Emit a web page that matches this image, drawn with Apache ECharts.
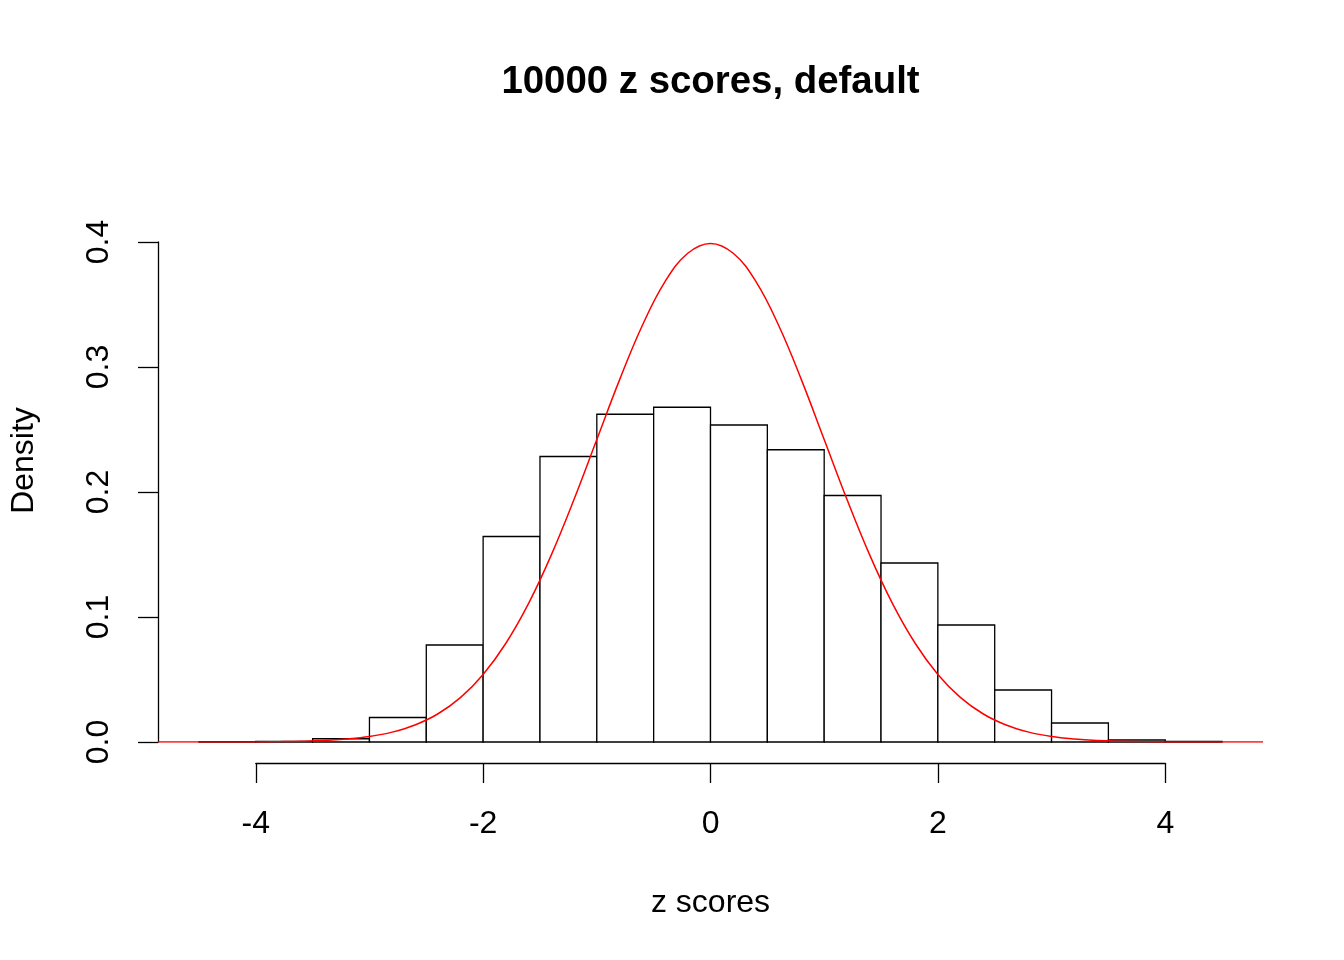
<!DOCTYPE html>
<html>
<head>
<meta charset="utf-8">
<title>10000 z scores, default</title>
<script src="https://cdn.jsdelivr.net/npm/echarts@6/dist/echarts.min.js"></script>
<style>
  html, body { margin: 0; padding: 0; background: #ffffff; }
  #chart { width: 1344px; height: 960px; }
</style>
</head>
<body>
<div id="chart"></div>
<script>
// Histogram bin edges (width 0.5) and the density of each bin
const binEdges = [-4.5, -4, -3.5, -3, -2.5, -2, -1.5, -1, -0.5, 0, 0.5, 1, 1.5, 2, 2.5, 3, 3.5, 4, 4.5];
const binDensity = [0.0002, 0.0004, 0.0026, 0.0196, 0.0776, 0.1644, 0.2284, 0.2622, 0.2678,
                    0.2536, 0.2338, 0.1972, 0.1432, 0.0936, 0.0416, 0.0152, 0.0016, 0.0004];

// Standard normal reference curve, sampled across the plotted range
const curveX = [-4.86, -4.8, -4.6, -4.4, -4.2, -4.0, -3.8, -3.6, -3.4, -3.2, -3.0, -2.8, -2.6, -2.4, -2.2,
                -2.0, -1.8, -1.6, -1.4, -1.2, -1.0, -0.8, -0.6, -0.4, -0.2, 0,
                0.2, 0.4, 0.6, 0.8, 1.0, 1.2, 1.4, 1.6, 1.8, 2.0, 2.2, 2.4, 2.6, 2.8, 3.0,
                3.2, 3.4, 3.6, 3.8, 4.0, 4.2, 4.4, 4.6, 4.8, 4.86];
const curveDensity = [0.0000, 0.0000, 0.0000, 0.0000, 0.0001, 0.0001, 0.0003, 0.0006, 0.0012, 0.0024, 0.0044,
                      0.0079, 0.0136, 0.0224, 0.0355, 0.0540, 0.0790, 0.1109, 0.1497, 0.1942, 0.2420,
                      0.2897, 0.3332, 0.3683, 0.3910, 0.3989,
                      0.3910, 0.3683, 0.3332, 0.2897, 0.2420, 0.1942, 0.1497, 0.1109, 0.0790, 0.0540,
                      0.0355, 0.0224, 0.0136, 0.0079, 0.0044, 0.0024, 0.0012, 0.0006, 0.0003, 0.0001,
                      0.0001, 0.0000, 0.0000, 0.0000, 0.0000];

// Axis ticks
const xTicks = [-4, -2, 0, 2, 4];
const yTicks = [0, 0.1, 0.2, 0.3, 0.4];

const titleText = '10000 z scores, default';
const xLabel = 'z scores';
const yLabel = 'Density';

const FONT = '"Liberation Sans", Arial, Helvetica, sans-serif';

const bins = binDensity.map((d, i) => [binEdges[i], binEdges[i + 1], d]);
const curve = curveX.map((x, i) => [x, curveDensity[i]]);

const chart = echarts.init(document.getElementById('chart'), null, { renderer: 'canvas' });

chart.setOption({
  backgroundColor: '#ffffff',
  animation: false,
  title: {
    text: titleText,
    left: 710.5,
    textAlign: 'center',
    top: 63,
    padding: 0,
    textStyle: { fontFamily: FONT, fontSize: 38.4, fontWeight: 'bold', color: '#000' }
  },
  // y-axis title, set in the left margin and read bottom to top
  graphic: [
    {
      type: 'text',
      x: 24,
      y: 460.5,
      rotation: Math.PI / 2,
      style: {
        text: yLabel,
        fontFamily: FONT,
        fontSize: 32,
        fill: '#000',
        align: 'center',
        verticalAlign: 'middle'
      }
    }
  ],
  grid: [
    // plotting region
    { left: 158, right: 81, top: 242, height: 500 },
    // region holding the x axis, spanning the tick range only
    { left: 255.8, width: 909.5, top: 700, height: 63 }
  ],
  xAxis: [
    {
      gridIndex: 0, type: 'value', min: -4.86, max: 4.86, show: false
    },
    {
      gridIndex: 1, type: 'value',
      min: xTicks[0], max: xTicks[xTicks.length - 1], interval: 2,
      axisLine: { show: true, onZero: false, lineStyle: { color: '#000', width: 1.3 } },
      axisTick: { show: true, inside: false, length: 20, lineStyle: { color: '#000', width: 1.3 } },
      axisLabel: { show: true, margin: 45, fontFamily: FONT, fontSize: 32, color: '#000' },
      splitLine: { show: false },
      name: xLabel, nameLocation: 'middle', nameGap: 124,
      nameTextStyle: { fontFamily: FONT, fontSize: 32, color: '#000' }
    }
  ],
  yAxis: [
    {
      gridIndex: 0, type: 'value',
      min: yTicks[0], max: yTicks[yTicks.length - 1], interval: 0.1,
      axisLine: { show: true, onZero: false, lineStyle: { color: '#000', width: 1.3 } },
      axisTick: { show: true, inside: false, length: 20, lineStyle: { color: '#000', width: 1.3 } },
      axisLabel: {
        show: true, rotate: 90, margin: 43,
        fontFamily: FONT, fontSize: 32, color: '#000',
        formatter: v => v.toFixed(1)
      },
      splitLine: { show: false }
    },
    { gridIndex: 1, type: 'value', show: false }
  ],
  series: [
    {
      type: 'custom',
      xAxisIndex: 0, yAxisIndex: 0,
      data: bins,
      encode: { x: [0, 1], y: 2 },
      renderItem: function (params, api) {
        const p0 = api.coord([api.value(0), 0]);
        const p1 = api.coord([api.value(1), api.value(2)]);
        return {
          type: 'rect',
          shape: { x: p0[0], y: p1[1], width: p1[0] - p0[0], height: p0[1] - p1[1] },
          style: { fill: '#ffffff', stroke: '#000000', lineWidth: 1.3 }
        };
      },
      z: 2
    },
    {
      type: 'line',
      xAxisIndex: 0, yAxisIndex: 0,
      data: curve,
      showSymbol: false,
      symbol: 'none',
      smooth: 0.4,
      lineStyle: { color: '#ff0000', width: 1.5 },
      z: 3
    }
  ]
});
</script>
</body>
</html>
